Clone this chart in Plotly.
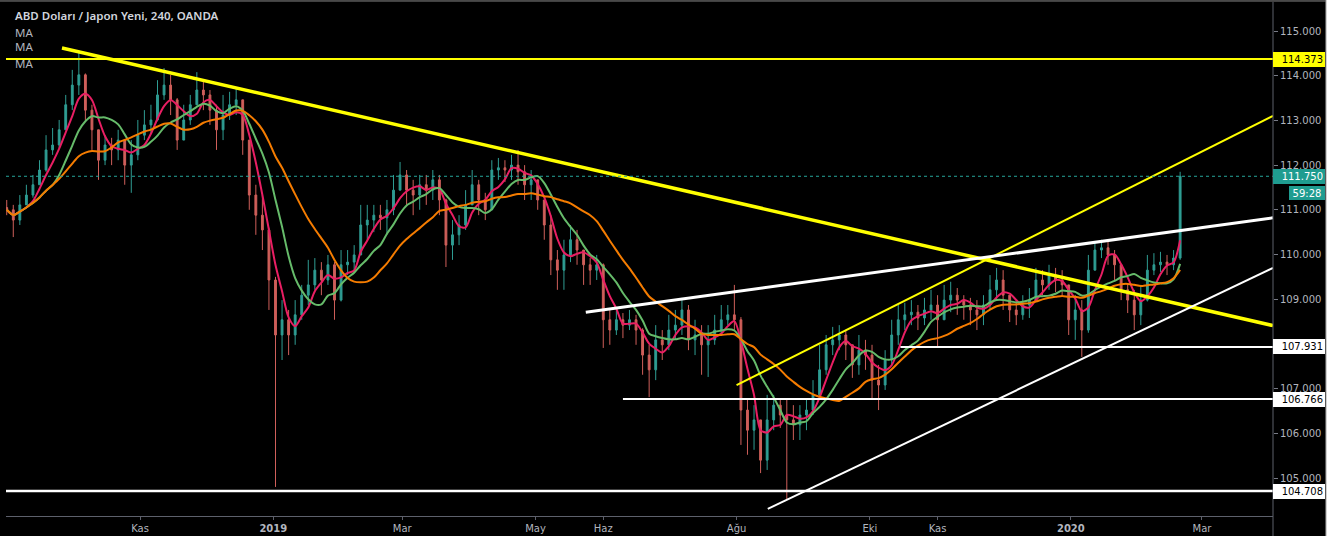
import plotly.graph_objects as go
import pandas as pd

# ---------------- data (USD/JPY, 3-day candles) ----------------
dates = pd.date_range("2018-09-01", periods=180, freq="3D")

first_open = 111.05

close = [111.00, 110.77, 111.11, 111.33, 111.56, 111.89, 112.34, 112.45, 112.79, 113.35,
         113.79, 114.02, 113.23, 112.79, 112.11, 112.45, 112.34, 112.56, 112.00, 112.23,
         112.67, 112.90, 113.01, 113.57, 113.79, 113.46, 112.56, 113.01, 113.35, 113.68,
         113.57, 113.23, 112.79, 113.12, 113.35, 113.46, 112.56, 111.33, 110.88, 110.55,
         109.43, 108.20, 108.54, 108.20, 108.65, 109.09, 109.32, 109.65, 109.43, 109.77,
         108.98, 109.77, 109.83, 109.99, 110.66, 110.77, 110.88, 110.82, 111.00, 111.44,
         111.78, 111.44, 111.33, 111.56, 111.44, 111.67, 111.22, 110.21, 110.44, 110.66,
         111.11, 111.56, 111.22, 111.00, 111.89, 111.94, 111.89, 112.00, 111.85, 111.56,
         111.67, 111.22, 110.66, 109.88, 109.65, 109.99, 110.33, 110.10, 109.77, 109.65,
         109.77, 108.54, 108.31, 108.54, 108.42, 108.54, 108.31, 107.75, 107.42, 108.09,
         107.98, 108.31, 108.42, 108.76, 108.09, 108.20, 107.98, 108.09, 108.31, 108.54,
         108.65, 108.54, 106.52, 106.07, 106.30, 105.40, 106.30, 106.63, 106.41, 106.30,
         106.19, 106.41, 106.52, 106.86, 107.42, 107.98, 108.09, 108.20, 107.98, 107.53,
         107.86, 107.75, 107.19, 107.08, 107.64, 108.20, 108.54, 108.65, 108.71, 108.58,
         108.76, 108.87, 108.54, 108.98, 109.09, 108.98, 108.87, 108.76, 108.65, 108.87,
         109.21, 109.43, 109.09, 108.76, 108.65, 108.87, 108.98, 109.43, 109.32, 109.54,
         109.43, 109.32, 108.54, 108.76, 108.31, 109.65, 110.10, 110.15, 109.99, 109.77,
         109.21, 108.98, 108.65, 108.98, 109.65, 109.77, 109.83, 109.77, 109.92, 111.75]

high = [111.22, 111.11, 111.33, 111.56, 111.78, 112.11, 112.67, 112.83, 113.01, 113.57,
        114.13, 114.53, 114.05, 113.35, 112.79, 112.67, 112.61, 112.79, 112.56, 112.56,
        113.01, 113.23, 113.35, 113.90, 114.17, 114.02, 113.50, 113.35, 113.57, 114.08,
        113.90, 113.68, 113.35, 113.57, 113.64, 113.73, 113.46, 112.56, 111.56, 111.33,
        110.60, 109.50, 108.98, 108.76, 108.98, 109.32, 109.88, 109.92, 109.83, 109.99,
        109.83, 110.10, 110.10, 110.21, 111.11, 111.11, 111.11, 111.11, 111.22, 111.78,
        112.07, 111.89, 111.67, 111.78, 111.78, 111.89, 111.78, 111.25, 110.77, 110.88,
        111.44, 111.89, 111.67, 111.38, 112.11, 112.16, 112.11, 112.23, 112.34, 112.00,
        111.89, 111.67, 111.22, 110.88, 110.10, 110.33, 110.66, 110.55, 110.10, 109.92,
        109.99, 109.80, 108.76, 108.76, 108.69, 108.76, 108.65, 108.35, 107.98, 108.42,
        108.31, 108.65, 108.76, 109.03, 108.87, 108.54, 108.42, 108.42, 108.65, 108.87,
        108.87, 109.32, 108.60, 106.75, 106.63, 106.30, 106.86, 106.86, 106.75, 106.75,
        106.63, 106.63, 106.75, 107.19, 107.98, 108.20, 108.38, 108.42, 108.31, 107.98,
        108.20, 108.09, 107.98, 107.53, 107.86, 108.54, 108.87, 108.92, 108.98, 108.87,
        109.03, 109.21, 109.09, 109.32, 109.39, 109.25, 109.09, 109.03, 108.98, 109.09,
        109.54, 109.70, 109.65, 109.09, 108.98, 109.09, 109.25, 109.70, 109.65, 109.77,
        109.70, 109.65, 109.32, 109.09, 108.98, 109.99, 110.26, 110.33, 110.28, 110.10,
        109.77, 109.32, 109.21, 109.32, 109.99, 110.03, 110.06, 109.99, 110.10, 111.85]

low = [110.88, 110.39, 110.66, 111.11, 111.27, 111.56, 111.85, 112.23, 112.38, 112.79,
       113.23, 113.57, 113.01, 112.34, 111.67, 112.00, 112.00, 112.11, 111.56, 111.38,
       112.11, 112.56, 112.72, 112.98, 113.46, 113.12, 112.34, 112.56, 112.90, 113.35,
       113.23, 112.90, 112.34, 112.56, 113.01, 113.12, 112.23, 111.00, 110.44, 110.10,
       108.76, 104.80, 107.64, 107.75, 107.98, 108.54, 108.87, 109.21, 109.09, 109.32,
       108.54, 108.95, 109.54, 109.65, 109.99, 110.33, 110.50, 110.55, 110.44, 110.88,
       111.44, 111.11, 110.88, 111.00, 111.11, 111.22, 110.88, 109.72, 109.88, 110.21,
       110.55, 111.11, 110.88, 110.77, 111.00, 111.67, 111.62, 111.67, 111.56, 111.22,
       111.22, 111.00, 110.33, 109.54, 109.21, 109.21, 109.83, 109.77, 109.32, 109.32,
       109.43, 107.91, 107.98, 108.20, 108.13, 108.31, 107.98, 107.31, 106.81, 107.19,
       107.64, 107.86, 108.09, 108.20, 107.86, 107.75, 107.31, 107.26, 107.98, 108.20,
       108.42, 108.31, 105.74, 105.52, 105.63, 105.11, 105.18, 106.07, 106.12, 104.51,
       105.85, 105.85, 106.07, 106.41, 106.75, 107.31, 107.75, 107.86, 107.64, 107.24,
       107.31, 107.42, 106.75, 106.52, 106.97, 107.53, 107.98, 108.31, 108.42, 108.31,
       108.42, 108.54, 107.93, 108.54, 108.71, 108.65, 108.54, 108.42, 108.31, 108.42,
       108.76, 108.98, 108.76, 108.49, 108.42, 108.54, 108.58, 108.98, 109.09, 109.21,
       109.16, 109.09, 108.20, 108.09, 107.71, 108.25, 109.65, 109.92, 109.77, 109.43,
       108.98, 108.69, 108.31, 108.42, 108.95, 109.54, 109.61, 109.54, 109.65, 109.88]

open_ = [first_open] + close[:-1]

# moving-average periods (in candles)
ma_periods = [4, 8, 16]
ma_colors = ["#e91e63", "#66bb6a", "#f57c00"]

# drawn levels / trend lines (date, price)
last_price = 111.750
countdown = "59:28"
h_levels = [114.373, 104.708]                       # full-width horizontal lines
h_segments = [("2019-10-15", 107.931), ("2019-06-10", 106.766)]
trend_lines = [
    # (start date, start price, end date, end price, colour, width)
    ("2018-09-26 07:00", 114.62, "2020-04-02 12:00", 108.41, "#ffff00", 3.5),
    ("2019-08-01 00:00", 107.08, "2020-04-02 12:00", 113.10, "#ffff00", 2),
    ("2019-05-24 00:00", 108.71, "2020-04-02 12:00", 110.82, "#ffffff", 3),
    ("2019-08-15 07:00", 104.31, "2020-04-02 12:00", 109.70, "#ffffff", 2),
]

tick_dates = ["2018-11-01", "2019-01-01", "2019-03-01", "2019-05-01", "2019-06-01",
              "2019-08-01", "2019-10-01", "2019-11-01", "2020-01-01", "2020-03-01"]
tick_text = ["Kas", "<b>2019</b>", "Mar", "May", "Haz", "Ağu", "Eki", "Kas", "<b>2020</b>", "Mar"]

x_range = ["2018-08-31 16:00", "2020-04-02 12:00"]
y_range = [104.150, 115.649]

# ---------------- figure ----------------
fig = go.Figure()

fig.add_trace(go.Candlestick(
    x=dates, open=open_, high=high, low=low, close=close,
    increasing=dict(line=dict(color="#2f9d93", width=1), fillcolor="#2f9d93"),
    decreasing=dict(line=dict(color="#cf5f5a", width=1), fillcolor="#cf5f5a"),
    showlegend=False, hoverinfo="skip",
))

s = pd.Series(close)
for p, c in zip(ma_periods, ma_colors):
    fig.add_trace(go.Scatter(
        x=dates, y=s.rolling(p, min_periods=1).mean(), mode="lines",
        line=dict(color=c, width=2, shape="spline", smoothing=0.8),
        showlegend=False, hoverinfo="skip"))

shapes = []
for d0, p0, d1, p1, col, w in trend_lines:
    shapes.append(dict(type="line", xref="x", yref="y", x0=d0, y0=p0, x1=d1, y1=p1,
                       line=dict(color=col, width=w)))
shapes.append(dict(type="line", xref="paper", yref="y", x0=0, x1=1, y0=h_levels[0], y1=h_levels[0],
                   line=dict(color="#ffff00", width=2)))
shapes.append(dict(type="line", xref="paper", yref="y", x0=0, x1=1, y0=h_levels[1], y1=h_levels[1],
                   line=dict(color="#ffffff", width=2.5)))
for d0, p in h_segments:
    shapes.append(dict(type="line", xref="x", yref="y", x0=d0, x1=x_range[1], y0=p, y1=p,
                       line=dict(color="#ffffff", width=2)))
shapes.append(dict(type="line", xref="paper", yref="y", x0=0, x1=1, y0=last_price, y1=last_price,
                   line=dict(color="#26a69a", width=1, dash="dot")))
# price-scale separator and frame
shapes.append(dict(type="line", xref="paper", yref="paper", x0=1, x1=1, y0=-0.05, y1=1,
                   line=dict(color="#5d606b", width=1)))
shapes.append(dict(type="rect", xref="paper", yref="paper", x0=1.0418, x1=1.06, y0=-0.05, y1=1.01,
                   fillcolor="#ffffff", line=dict(width=0)))
shapes.append(dict(type="line", xref="paper", yref="paper", x0=1.0418, x1=1.0418, y0=-0.05, y1=1.01,
                   line=dict(color="#9a9a9a", width=1)))
shapes.append(dict(type="line", xref="paper", yref="paper", x0=-0.006, x1=1.0418, y0=1.002, y1=1.002,
                   line=dict(color="#8a8a8a", width=1)))
fig.update_layout(shapes=shapes)

tag_font = "DejaVu Sans"
ann = []
# right price tags
def tag(val, bg, fg):
    return dict(xref="paper", yref="y", x=1, y=val, xanchor="left", yanchor="middle",
                text=f"{val:.3f}", showarrow=False, bgcolor=bg, borderpad=2, borderwidth=0,
                width=48, height=11, align="right", font=dict(family=tag_font, size=10, color=fg))
ann.append(tag(h_levels[0], "#ffff00", "#000000"))
ann.append(tag(last_price, "#1f9c90", "#ffffff"))
ann.append(tag(h_segments[0][1], "#ffffff", "#000000"))
ann.append(tag(h_segments[1][1], "#ffffff", "#000000"))
ann.append(tag(h_levels[1], "#ffffff", "#000000"))
ann.append(dict(xref="paper", yref="y", x=1.0126, y=last_price, yshift=-17, xanchor="left",
                yanchor="middle", text=countdown, showarrow=False, bgcolor="#1f9c90", borderpad=2,
                borderwidth=0, width=32, height=10, align="center",
                font=dict(family=tag_font, size=10, color="#ffffff")))
# header texts
ann.append(dict(xref="paper", yref="paper", x=0.0055, y=0.9728, xanchor="left", yanchor="middle",
                text="ABD Doları / Japon Yeni, 240, OANDA", showarrow=False,
                font=dict(family="Noto Sans", size=11.5, color="#d1d4dc", weight=600)))
for k, yy in enumerate([0.9416, 0.9125, 0.8813]):
    ann.append(dict(xref="paper", yref="paper", x=0.0055, y=yy, xanchor="left", yanchor="middle",
                    text="MA", showarrow=False,
                    font=dict(family="Noto Sans", size=11.5, color="#b2b5be")))
fig.update_layout(annotations=ann)

fig.update_layout(
    width=1332, height=536,
    margin=dict(l=6, r=59, t=2, b=20),
    paper_bgcolor="#000000", plot_bgcolor="#000000",
    boxgap=0.6,
    showlegend=False,
    xaxis=dict(type="date", range=x_range, rangeslider=dict(visible=False),
               showgrid=False, zeroline=False, tickmode="array",
               tickvals=tick_dates, ticktext=tick_text,
               ticks="outside", ticklen=3, tickcolor="#5d606b",
               showline=True, linecolor="#5d606b", linewidth=1,
               tickfont=dict(family="DejaVu Sans", size=10, color="#b2b5be")),
    yaxis=dict(side="right", range=y_range, showgrid=False, zeroline=False,
               tick0=105, dtick=1, tickformat=".3f",
               ticks="outside", ticklen=4, tickcolor="#787b86",
               showline=False,
               tickfont=dict(family=tag_font, size=10, color="#b2b5be")),
)

fig.write_html("out.html")
